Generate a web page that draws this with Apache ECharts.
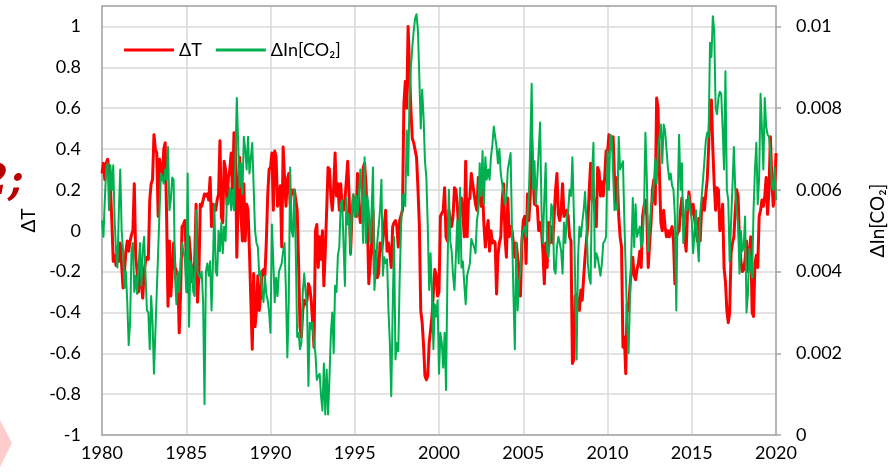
<!DOCTYPE html>
<html><head><meta charset="utf-8">
<script src="https://cdn.jsdelivr.net/npm/echarts@6/dist/echarts.min.js"></script>
<style>html,body{margin:0;padding:0;background:#fff}#c{width:895px;height:476px}</style>
</head><body><div id="c"></div>
<script>
// Monthly values, Jan 1980 .. Jan 2020
const startYear = 1980;
const endYear = 2020;
const yearTicks = [1980, 1985, 1990, 1995, 2000, 2005, 2010, 2015, 2020];
const seriesNames = ['ΔT', 'ΔIn[CO₂]'];

const dT = [
  0.28, 0.33, 0.25, 0.33, 0.35, 0.3, 0.22, 0.05, -0.15, -0.12, -0.17, -0.08,
  -0.15, -0.06, -0.17, -0.28, -0.2, -0.1, -0.05, -0.1, -0.05, -0.02, 0.0, 0.23,
  -0.13, -0.2, -0.3, -0.18, -0.25, -0.33, -0.2, -0.15, -0.13, -0.14, 0.15, 0.23,
  0.25, 0.47, 0.4, 0.38, 0.07, 0.35, 0.3, 0.25, 0.4, 0.43, 0.08, -0.37,
  -0.05, -0.32, -0.2, -0.06, -0.18, -0.2, -0.22, -0.5, -0.3, 0.02, 0.03, 0.05,
  0.05, -0.3, -0.03, -0.12, -0.25, -0.2, -0.15, 0.13, -0.35, -0.22, 0.13, 0.12,
  0.15, 0.18, 0.17, 0.18, 0.15, 0.26, 0.02, 0.13, 0.12, 0.1, 0.15, 0.18,
  0.44, 0.07, 0.04, 0.34, 0.3, 0.13, 0.26, 0.3, 0.38, 0.17, 0.48, 0.45,
  -0.13, 0.17, 0.36, 0.07, -0.05, 0.23, -0.05, 0.13, 0.1, -0.1, -0.34, -0.58,
  -0.21, -0.47, -0.39, -0.22, -0.39, -0.32, -0.2, -0.19, -0.22, -0.06, 0.17, 0.3,
  0.31, 0.38, 0.1, 0.39, 0.36, 0.12, 0.12, 0.22, -0.08, 0.41, 0.26, 0.12,
  0.25, 0.28, 0.13, 0.2, 0.18, 0.2, 0.2, 0.1, -0.16, -0.47, -0.52, -0.39,
  -0.34, -0.36, -0.34, -0.26, -0.28, -0.34, -0.45, -0.57, 0.0, 0.03, -0.18, -0.03,
  -0.14, 0.0, -0.27, -0.1, 0.1, 0.31, 0.3, 0.17, 0.1, 0.21, 0.38, 0.17,
  0.23, 0.1, 0.23, 0.12, 0.1, 0.15, 0.15, 0.34, 0.17, -0.11, 0.07, 0.17,
  0.12, 0.07, 0.28, 0.1, 0.04, 0.1, 0.31, 0.33, 0.23, 0.04, -0.26, -0.26,
  -0.06, 0.1, -0.21, -0.1, -0.23, -0.21, -0.06, -0.1, -0.05, -0.05, 0.1, -0.1,
  -0.06, -0.11, -0.18, 0.02, 0.04, 0.05, 0.02, -0.08, 0.05, 0.05, 0.1, 0.62,
  0.73, 0.6, 1.0, 1.0, 0.59, 0.45, 0.43, 0.43, 0.36, 0.21, 0.03, -0.39,
  -0.45, -0.56, -0.71, -0.73, -0.71, -0.55, -0.55, -0.42, -0.3, -0.19, -0.22, -0.32,
  -0.3, 0.07, 0.07, 0.1, 0.21, -0.03, -0.05, 0.1, 0.1, 0.02, 0.07, 0.21,
  0.2, 0.13, 0.0, 0.1, 0.16, 0.08, -0.03, 0.34, -0.03, 0.15, 0.16, 0.28,
  0.23, 0.18, 0.13, 0.1, 0.26, 0.17, 0.12, 0.2, 0.03, -0.08, 0.0, 0.05,
  -0.1, 0.0, -0.06, -0.05, -0.06, -0.31, -0.12, -0.06, -0.03, 0.15, 0.23, -0.03,
  -0.13, 0.16, -0.03, 0.02, 0.0, -0.06, -0.13, -0.06, -0.13, -0.2, -0.32, -0.06,
  0.05, 0.07, -0.16, 0.18, 0.05, 0.17, 0.44, 0.25, 0.13, 0.13, 0.12, 0.0,
  0.04, 0.0, -0.1, -0.26, -0.06, -0.18, 0.04, -0.06, 0.02, -0.06, 0.07, 0.2,
  0.28, 0.08, 0.05, 0.1, 0.23, 0.07, 0.08, 0.1, 0.07, -0.03, -0.05, -0.65,
  -0.63, -0.32, -0.31, -0.36, -0.39, -0.29, -0.34, -0.23, -0.13, -0.05, 0.03, 0.2,
  0.33, 0.15, 0.17, 0.1, 0.02, 0.31, 0.29, 0.17, 0.24, 0.17, 0.26, 0.39,
  0.38, 0.47, 0.47, 0.4, 0.46, 0.25, 0.11, 0.26, 0.07, -0.03, -0.08, -0.57,
  -0.52, -0.7, -0.36, -0.39, -0.27, -0.19, -0.13, -0.22, -0.24, -0.19, -0.16, -0.1,
  -0.18, 0.07, 0.12, 0.15, 0.07, -0.18, -0.06, 0.04, 0.2, 0.25, 0.13, 0.65,
  0.6, 0.28, 0.04, 0.0, 0.1, 0.02, -0.03, 0.0, -0.03, 0.0, 0.02, -0.05,
  -0.26, -0.03, -0.01, 0.0, 0.1, 0.16, 0.07, -0.03, -0.1, 0.1, 0.19, 0.12,
  0.08, 0.13, 0.06, 0.0, -0.05, 0.06, -0.05, 0.1, 0.16, 0.1, 0.18, 0.25,
  0.4, 0.62, 0.64, 0.4, 0.23, 0.1, 0.21, 0.2, 0.0, 0.05, 0.13, -0.18,
  -0.25, -0.39, -0.45, -0.4, -0.11, -0.06, -0.03, 0.1, 0.2, 0.17, -0.05, -0.15,
  -0.2, -0.19, -0.14, -0.05, -0.2, -0.2, -0.03, -0.4, -0.42, -0.16, -0.12, -0.18,
  0.07, 0.1, 0.15, 0.12, 0.17, 0.26, 0.08, 0.2, 0.46, 0.26, 0.12, 0.17,
  0.38
];

const dlnCO2 = [
  5.25e-3, 4.85e-3, 5.75e-3, 6.5e-3, 6.65e-3, 5.5e-3, 6.6e-3, 6.0e-3, 6.6e-3, 5.25e-3, 4.5e-3, 4.1e-3,
  5.5e-3, 6.5e-3, 5.0e-3, 4.5e-3, 3.6e-3, 4.0e-3, 3.25e-3, 2.2e-3, 2.75e-3, 4.5e-3, 4.7e-3, 3.5e-3,
  3.9e-3, 3.45e-3, 4.1e-3, 4.7e-3, 3.65e-3, 4.5e-3, 4.85e-3, 3.9e-3, 3.05e-3, 3.0e-3, 2.1e-3, 3.4e-3,
  2.75e-3, 1.5e-3, 2.5e-3, 3.5e-3, 4.5e-3, 5.5e-3, 6.4e-3, 6.3e-3, 6.15e-3, 6.5e-3, 6.25e-3, 7.05e-3,
  5.5e-3, 5.75e-3, 6.3e-3, 6.25e-3, 3.85e-3, 3.2e-3, 4.0e-3, 3.5e-3, 4.25e-3, 4.7e-3, 4.5e-3, 4.3e-3,
  3.5e-3, 6.4e-3, 2.65e-3, 4.25e-3, 4.1e-3, 3.5e-3, 3.4e-3, 5.5e-3, 4.0e-3, 3.9e-3, 3.85e-3, 4.0e-3,
  3.25e-3, 0.75e-3, 4.0e-3, 4.2e-3, 3.9e-3, 4.25e-3, 3.05e-3, 4.2e-3, 5.65e-3, 4.0e-3, 3.9e-3, 5.0e-3,
  4.5e-3, 5.2e-3, 4.45e-3, 5.1e-3, 4.75e-3, 5.8e-3, 5.65e-3, 6.05e-3, 5.5e-3, 6.0e-3, 5.5e-3, 6.75e-3,
  8.25e-3, 7.1e-3, 6.05e-3, 6.65e-3, 5.9e-3, 7.3e-3, 7.0e-3, 6.5e-3, 7.3e-3, 6.4e-3, 6.4e-3, 7.15e-3,
  7.15e-3, 5.0e-3, 4.7e-3, 4.6e-3, 3.9e-3, 4.0e-3, 3.55e-3, 3.25e-3, 3.9e-3, 3.45e-3, 3.3e-3, 3.0e-3,
  2.5e-3, 5.15e-3, 4.25e-3, 3.25e-3, 3.85e-3, 3.4e-3, 4.0e-3, 4.0e-3, 4.2e-3, 4.5e-3, 4.7e-3, 3.5e-3,
  1.9e-3, 3.25e-3, 6.55e-3, 5.0e-3, 4.85e-3, 6.0e-3, 4.5e-3, 2.4e-3, 2.5e-3, 2.1e-3, 2.25e-3, 3.5e-3,
  3.95e-3, 3.5e-3, 3.2e-3, 1.2e-3, 2.75e-3, 2.6e-3, 2.75e-3, 2.25e-3, 2.0e-3, 1.35e-3, 1.45e-3, 1.5e-3,
  0.95e-3, 0.6e-3, 1.75e-3, 0.5e-3, 1.6e-3, 0.5e-3, 1.4e-3, 2.5e-3, 3.0e-3, 2.0e-3, 3.65e-3, 3.5e-3,
  4.4e-3, 4.6e-3, 5.65e-3, 5.75e-3, 4.7e-3, 3.65e-3, 5.8e-3, 5.15e-3, 5.4e-3, 4.4e-3, 5.5e-3, 5.9e-3,
  5.35e-3, 5.85e-3, 5.35e-3, 5.9e-3, 6.5e-3, 5.85e-3, 4.7e-3, 6.8e-3, 4.7e-3, 5.85e-3, 5.5e-3, 4.7e-3,
  5.5e-3, 6.55e-3, 3.55e-3, 4.05e-3, 4.7e-3, 5.1e-3, 5.5e-3, 6.25e-3, 3.9e-3, 4.35e-3, 4.2e-3, 4.3e-3,
  3.05e-3, 2.25e-3, 0.95e-3, 3.05e-3, 4.85e-3, 1.85e-3, 2.25e-3, 2.05e-3, 3.85e-3, 5.1e-3, 5.85e-3, 5.9e-3,
  5.6e-3, 7.45e-3, 6.35e-3, 8.25e-3, 9.0e-3, 9.5e-3, 9.9e-3, 10.2e-3, 10.3e-3, 9.9e-3, 8.75e-3, 7.5e-3,
  8.45e-3, 7.8e-3, 6.7e-3, 6.3e-3, 5.1e-3, 3.55e-3, 4.45e-3, 3.45e-3, 2.1e-3, 3.2e-3, 2.9e-3, 3.3e-3,
  1.5e-3, 2.5e-3, 2.25e-3, 1.65e-3, 2.5e-3, 1.1e-3, 3.9e-3, 6.0e-3, 4.75e-3, 4.5e-3, 3.9e-3, 3.55e-3,
  4.35e-3, 5.25e-3, 4.2e-3, 6.05e-3, 4.1e-3, 4.25e-3, 3.7e-3, 3.2e-3, 3.9e-3, 3.9e-3, 4.2e-3, 4.8e-3,
  4.7e-3, 4.6e-3, 4.45e-3, 5.25e-3, 5.5e-3, 6.65e-3, 5.85e-3, 6.95e-3, 5.65e-3, 6.8e-3, 6.25e-3, 6.5e-3,
  6.25e-3, 6.8e-3, 7.1e-3, 7.55e-3, 7.3e-3, 7.05e-3, 6.65e-3, 7.0e-3, 6.4e-3, 6.15e-3, 5.9e-3, 5.65e-3,
  5.85e-3, 6.5e-3, 6.7e-3, 6.9e-3, 5.0e-3, 3.45e-3, 2.1e-3, 4.7e-3, 3.05e-3, 3.75e-3, 4.0e-3, 4.85e-3,
  5.0e-3, 5.1e-3, 4.85e-3, 4.85e-3, 5.9e-3, 7.1e-3, 8.6e-3, 6.0e-3, 6.7e-3, 5.65e-3, 6.3e-3, 6.95e-3,
  7.65e-3, 5.5e-3, 4.7e-3, 5.8e-3, 6.65e-3, 4.5e-3, 4.35e-3, 4.85e-3, 5.65e-3, 5.5e-3, 4.05e-3, 3.95e-3,
  4.6e-3, 4.85e-3, 4.7e-3, 4.5e-3, 3.95e-3, 5.2e-3, 4.7e-3, 5.35e-3, 5.5e-3, 6.0e-3, 5.85e-3, 6.8e-3,
  5.5e-3, 3.7e-3, 1.85e-3, 4.3e-3, 5.1e-3, 4.85e-3, 5.2e-3, 5.5e-3, 5.95e-3, 5.25e-3, 4.2e-3, 3.85e-3,
  3.7e-3, 6.4e-3, 7.15e-3, 4.1e-3, 4.45e-3, 4.35e-3, 4.35e-3, 3.9e-3, 4.2e-3, 4.7e-3, 4.75e-3, 4.85e-3,
  6.95e-3, 6.0e-3, 7.35e-3, 7.3e-3, 6.4e-3, 5.5e-3, 5.65e-3, 5.5e-3, 7.3e-3, 6.5e-3, 6.5e-3, 6.7e-3,
  5.25e-3, 4.0e-3, 2.75e-3, 2.0e-3, 3.3e-3, 4.5e-3, 5.8e-3, 4.6e-3, 5.65e-3, 4.85e-3, 4.85e-3, 5.1e-3,
  4.6e-3, 4.75e-3, 5.5e-3, 7.4e-3, 6.3e-3, 4.5e-3, 5.0e-3, 5.6e-3, 5.8e-3, 6.15e-3, 6.75e-3, 6.15e-3,
  7.0e-3, 7.3e-3, 7.6e-3, 6.65e-3, 7.6e-3, 7.45e-3, 7.0e-3, 6.55e-3, 6.25e-3, 6.4e-3, 6.1e-3, 6.0e-3,
  5.35e-3, 3.05e-3, 5.8e-3, 7.35e-3, 6.0e-3, 6.65e-3, 4.7e-3, 5.2e-3, 5.75e-3, 5.5e-3, 5.85e-3, 5.5e-3,
  5.25e-3, 4.45e-3, 5.0e-3, 5.5e-3, 4.75e-3, 4.25e-3, 5.4e-3, 5.8e-3, 5.8e-3, 6.7e-3, 7.2e-3, 7.4e-3,
  7.3e-3, 9.6e-3, 9.25e-3, 10.25e-3, 9.9e-3, 8.0e-3, 7.85e-3, 8.25e-3, 8.4e-3, 8.35e-3, 7.5e-3, 6.5e-3,
  8.9e-3, 6.0e-3, 5.75e-3, 4.25e-3, 5.2e-3, 6.1e-3, 7.05e-3, 6.0e-3, 5.5e-3, 5.15e-3, 3.95e-3, 5.0e-3,
  4.5e-3, 4.6e-3, 5.35e-3, 3.0e-3, 3.45e-3, 4.55e-3, 4.1e-3, 3.85e-3, 5.5e-3, 6.5e-3, 7.15e-3, 5.65e-3,
  6.3e-3, 8.35e-3, 7.5e-3, 6.5e-3, 8.25e-3, 7.55e-3, 7.35e-3, 7.3e-3, 6.9e-3, 6.1e-3, 6.0e-3, 6.55e-3,
  5.75e-3
];

const FONT = 'Lato, "Open Sans", "DejaVu Sans", sans-serif';
const frameLine = { color: '#a6a6a6', width: 1.5 };
const gridLine = { color: '#d9d9d9', width: 1.5 };

const toPoints = arr => arr.map((v, i) => [startYear + i / 12, v]);

const chart = echarts.init(document.getElementById('c'), null, { renderer: 'canvas' });
chart.setOption({
  animation: false,
  backgroundColor: '#ffffff',
  textStyle: { fontFamily: FONT },
  grid: { left: 102, right: 114, top: 6, bottom: 41 },
  legend: {
    left: 119, top: 36,
    icon: 'rect', itemWidth: 50, itemHeight: 3, itemGap: 14,
    textStyle: { fontFamily: FONT, fontSize: 18, color: '#000' },
    data: seriesNames
  },
  xAxis: [{
    type: 'value', min: yearTicks[0], max: yearTicks[yearTicks.length - 1], interval: 5,
    axisLine: { show: true, onZero: false, lineStyle: frameLine },
    axisTick: { show: false },
    splitLine: { show: true, lineStyle: gridLine },
    axisLabel: { color: '#000', fontFamily: FONT, fontSize: 18, margin: 9, formatter: v => String(v) }
  }, {
    type: 'value', position: 'top', min: startYear, max: endYear,
    axisLine: { show: true, onZero: false, lineStyle: frameLine },
    axisTick: { show: false }, axisLabel: { show: false }, splitLine: { show: false }
  }],
  yAxis: [{
    type: 'value', position: 'left', min: -1, max: 1.1, interval: 0.2,
    name: seriesNames[0], nameLocation: 'middle', nameGap: 64, nameRotate: 90,
    nameTextStyle: { fontFamily: FONT, fontSize: 19, color: '#000' },
    axisLine: { show: true, onZero: false, lineStyle: frameLine },
    axisTick: { show: false },
    splitLine: { show: true, lineStyle: gridLine },
    axisLabel: { showMaxLabel: false, color: '#000', fontFamily: FONT, fontSize: 18, margin: 21 }
  }, {
    type: 'value', position: 'right', min: 0, max: 0.0105, interval: 0.002,
    name: seriesNames[1], nameLocation: 'middle', nameGap: 92, nameRotate: 90,
    nameTextStyle: { fontFamily: FONT, fontSize: 19, color: '#000' },
    axisLine: { show: true, onZero: false, lineStyle: frameLine },
    axisTick: { show: true, inside: false, length: 5, lineStyle: { color: '#a6a6a6', width: 1.5 } },
    splitLine: { show: false },
    axisLabel: { showMaxLabel: false, color: '#000', fontFamily: FONT, fontSize: 18, margin: 20 }
  }],
  series: [{
    name: seriesNames[0], type: 'line', xAxisIndex: 0, yAxisIndex: 0,
    data: toPoints(dT), showSymbol: false, symbol: 'none',
    lineStyle: { color: '#ff0000', width: 3, join: 'round' }, itemStyle: { color: '#ff0000' }
  }, {
    name: seriesNames[1], type: 'line', xAxisIndex: 0, yAxisIndex: 1,
    data: toPoints(dlnCO2), showSymbol: false, symbol: 'none',
    lineStyle: { color: '#00b050', width: 2, join: 'round' }, itemStyle: { color: '#00b050' }
  }],
  graphic: [{
    type: 'text', left: -21, top: 162, z: 100,
    style: { text: '2;', fill: '#b80000', font: 'italic bold 42px "DejaVu Serif", serif' }
  }, {
    type: 'polygon', z: 100,
    shape: { points: [[0, 420], [12, 443], [0, 467]] },
    style: { fill: '#ffcccc' }
  }]
});
</script></body></html>
